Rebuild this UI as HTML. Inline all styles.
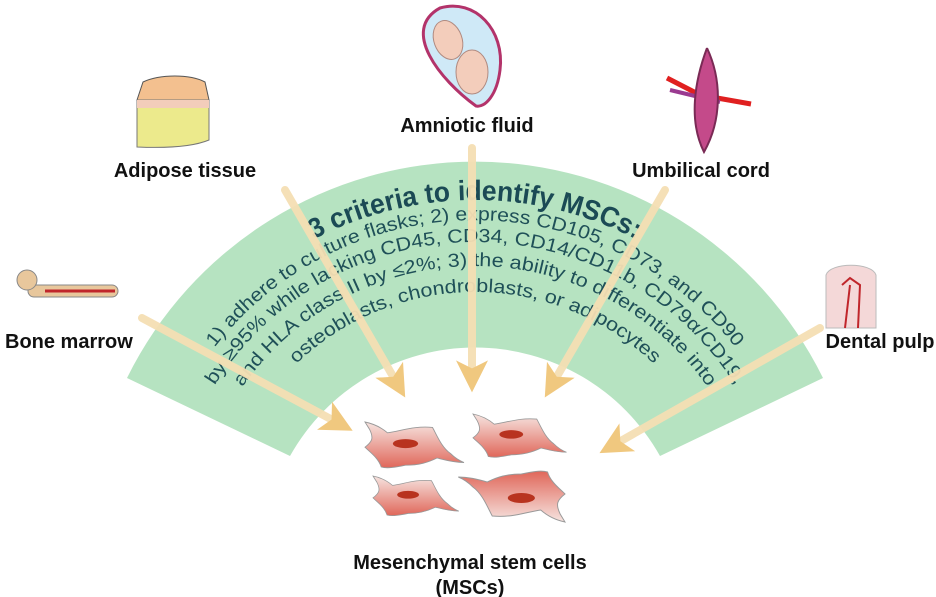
<!DOCTYPE html>
<html><head><meta charset="utf-8"><style>
html,body{margin:0;padding:0;background:#fff;}
svg{display:block;}
.lbl{font-family:"Liberation Sans",sans-serif;font-weight:bold;font-size:20px;fill:#111;}
</style></head><body>
<svg width="936" height="597" viewBox="0 0 936 597" xmlns="http://www.w3.org/2000/svg">
<defs>
<linearGradient id="cg" x1="0" y1="0" x2="0" y2="1">
<stop offset="0" stop-color="#f6e4e0"/><stop offset="1" stop-color="#e0675a"/></linearGradient>
<path id="a0" d="M 125 550 A 350 350 0 0 1 825 550"/>
<path id="a1" d="M 145 550 A 330 330 0 0 1 805 550"/>
<path id="a2" d="M 167 550 A 308 308 0 0 1 783 550"/>
<path id="a3" d="M 191 550 A 284 284 0 0 1 759 550"/>
<path id="a4" d="M 217 550 A 258 258 0 0 1 733 550"/>
<g id="cell">
<path d="M0 0 C10 2 18 6 25 12 C40 10 55 4 75 6 C80 15 85 28 95 35 C100 40 105 43 110 45 C98 45 88 42 80 40 C70 45 60 48 45 48 C35 50 25 52 18 50 C15 40 5 33 0 28 C8 22 10 18 5 8 Z" fill="url(#cg)" stroke="#999" stroke-width="1"/>
<ellipse cx="45" cy="24" rx="14" ry="5" fill="#b8331f"/>
</g>
<marker id="ah" markerWidth="4" markerHeight="4" refX="2.2" refY="2" orient="auto" markerUnits="strokeWidth"><path d="M0 0 L4 2 L0 4 L1 2 Z" fill="#f0c679"/></marker>
</defs>
<!-- green band -->
<path d="M 127 378 A 388 388 0 0 1 823 378 L 660 456 A 212 212 0 0 0 290 456 Z" fill="#b6e3c1"/>
<!-- text -->
<g font-family="Liberation Sans, DejaVu Sans, sans-serif" fill="#1f5058">
<text font-size="28" font-weight="bold" fill="#1b4a55" text-anchor="middle"><textPath href="#a0" startOffset="50%" textLength="335" lengthAdjust="spacingAndGlyphs">3 criteria to identify MSCs:</textPath></text>
<text font-size="19" text-anchor="middle"><textPath href="#a1" startOffset="50%" textLength="600" lengthAdjust="spacingAndGlyphs">1) adhere to culture flasks; 2) express CD105, CD73, and CD90</textPath></text>
<text font-size="19" text-anchor="middle"><textPath href="#a2" startOffset="50%" textLength="620" lengthAdjust="spacingAndGlyphs">by ≥95% while lacking CD45, CD34, CD14/CD11b, CD79α/CD19,</textPath></text>
<text font-size="19" text-anchor="middle"><textPath href="#a3" startOffset="50%" textLength="545" lengthAdjust="spacingAndGlyphs">and HLA class II by ≤2%; 3) the ability to differentiate into</textPath></text>
<text font-size="19" text-anchor="middle"><textPath href="#a4" startOffset="50%" textLength="395" lengthAdjust="spacingAndGlyphs">osteoblasts, chondroblasts, or adipocytes</textPath></text>
</g>
<!-- arrows -->
<g stroke="#f5dfb4" stroke-width="8" fill="none" marker-end="url(#ah)" stroke-linecap="round" opacity="0.95">
<line x1="472" y1="148" x2="472" y2="378"/>
<line x1="285" y1="190" x2="398" y2="385"/>
<line x1="665" y1="190" x2="552" y2="385"/>
<line x1="142" y1="318" x2="340" y2="424"/>
<line x1="820" y1="328" x2="612" y2="446"/>
</g>
<!-- cells -->
<use href="#cell" transform="translate(365,422) scale(0.9)"/>
<use href="#cell" transform="translate(473,414) scale(0.85)"/>
<use href="#cell" transform="translate(373,476) scale(0.78)"/>
<use href="#cell" transform="translate(565,522) scale(-0.97,-1)"/>
<!-- icons -->
<g>
<path d="M440 8 C475 -2 505 30 500 70 C497 95 485 108 476 106 C440 80 400 30 440 8 Z" fill="#cfe9f7" stroke="#b3336a" stroke-width="3"/>
<ellipse cx="448" cy="40" rx="14" ry="20" fill="#f3cdbb" stroke="#b08a80" transform="rotate(-20 448 40)"/>
<ellipse cx="472" cy="72" rx="16" ry="22" fill="#f3cdbb" stroke="#b08a80"/>
</g>
<g>
<path d="M137 100 L143 82 C160 74 190 74 205 82 L209 100 Z" fill="#f3c08f" stroke="#555"/>
<path d="M137 100 L209 100 L209 140 C190 148 160 148 137 147 Z" fill="#ecea8c" stroke="#777"/>
<path d="M137 100 L209 100 L209 108 L137 108 Z" fill="#f3cdbb"/>
</g>
<g>
<path d="M667 78 L700 95 L751 104" stroke="#e02020" stroke-width="5" fill="none"/>
<path d="M670 90 L720 102" stroke="#9a3a90" stroke-width="4" fill="none"/>
<path d="M707 48 C695 80 688 120 704 152 C722 120 722 80 707 48" fill="#c44a8a" stroke="#7a2a55" stroke-width="2"/>
</g>
<g>
<rect x="28" y="285" width="90" height="12" rx="6" fill="#e8c79c" stroke="#888"/>
<line x1="45" y1="291" x2="115" y2="291" stroke="#c0262b" stroke-width="3"/>
<circle cx="27" cy="280" r="10" fill="#e8c79c" stroke="#888"/>
</g>
<g>
<path d="M826 275 C830 262 872 262 876 275 L876 328 L826 328 Z" fill="#f4d8d8" stroke="#bbb"/>
<path d="M842 285 L850 278 L860 285 L858 328 M850 285 L845 328" stroke="#c0262b" stroke-width="2" fill="none"/>
</g>
<!-- labels -->
<text class="lbl" x="467" y="132" text-anchor="middle">Amniotic fluid</text>
<text class="lbl" x="185" y="177" text-anchor="middle">Adipose tissue</text>
<text class="lbl" x="701" y="177" text-anchor="middle">Umbilical cord</text>
<text class="lbl" x="5" y="348">Bone marrow</text>
<text class="lbl" x="880" y="348" text-anchor="middle">Dental pulp</text>
<text class="lbl" x="470" y="569" text-anchor="middle">Mesenchymal stem cells</text>
<text class="lbl" x="470" y="594" text-anchor="middle">(MSCs)</text>
</svg>
</body></html>
